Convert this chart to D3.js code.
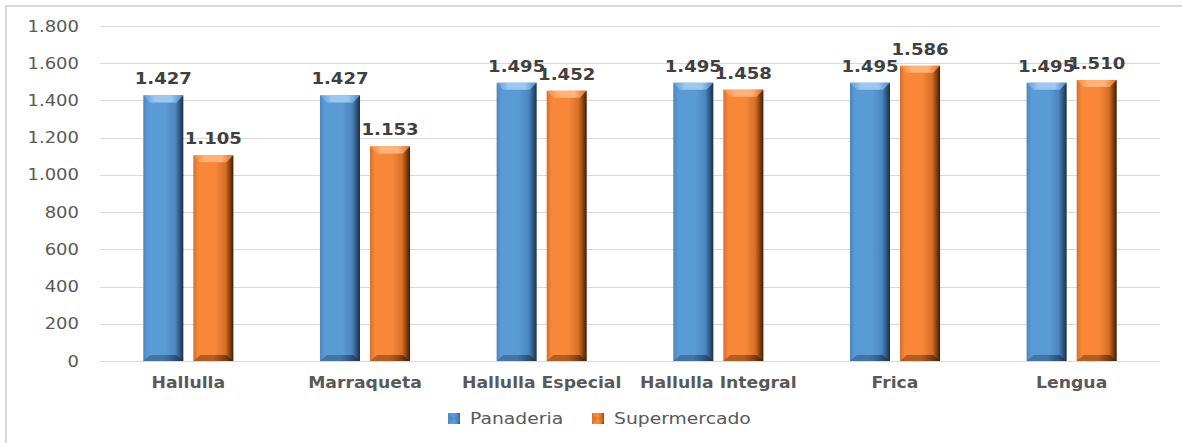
<!DOCTYPE html>
<html><head><meta charset="utf-8">
<script src="https://cdn.jsdelivr.net/npm/d3@7/dist/d3.min.js"></script>
<style>body{margin:0;background:#fff;}svg{display:block;}</style>
</head><body>
<svg id="c" width="1182" height="443"></svg>
<script>
const categories = ["Hallulla","Marraqueta","Hallulla Especial","Hallulla Integral","Frica","Lengua"];
const seriesNames = ["Panaderia","Supermercado"];
const panaderia = [1427,1427,1495,1495,1495,1495];
const supermercado = [1105,1153,1452,1458,1586,1510];
const tickValues = [0,200,400,600,800,1000,1200,1400,1600,1800];
const fmt = v => d3.format(",")(v).replace(/,/g,".");

(function(){
const svg = d3.select("#c");
const pLeft=100,pRight=1160,pTop=26,pBottom=361;

svg.append("rect").attr("x",6).attr("y",6).attr("width",1300).attr("height",600)
  .attr("fill","none").attr("stroke","#d9d9d9").attr("stroke-width",2);

const x0 = d3.scaleBand().domain(categories).range([pLeft,pRight]).paddingInner(0.49).paddingOuter(0.245);
const x1 = d3.scaleBand().domain(seriesNames).range([0,x0.bandwidth()]).paddingInner(0.2);
const y = d3.scaleLinear().domain([0,1800]).range([pBottom,pTop]);

const colors = {Panaderia:{base:"#5b9bd5",light:"#9cc8f0",mid:"#4a86c0",dark:"#1c2f45",bot:"#3f6e9c"},
                Supermercado:{base:"#f8873a",light:"#ffb27a",mid:"#d86f25",dark:"#3d1d08",bot:"#a9561f"}};

const defs = svg.append("defs");
seriesNames.forEach((s,i)=>{
  const c=colors[s];
  const g=defs.append("linearGradient").attr("id","body"+i).attr("x1","0").attr("x2","1").attr("y1","0").attr("y2","0");
  [[0,c.mid],[0.12,c.base],[0.55,c.base],[0.8,c.mid],[1,c.dark]].forEach(([o,col])=>g.append("stop").attr("offset",o).attr("stop-color",col));
  const t=defs.append("linearGradient").attr("id","top"+i).attr("x1","0").attr("x2","1").attr("y1","0").attr("y2","0");
  [[0,c.base],[0.3,c.light],[0.7,c.light],[1,c.mid]].forEach(([o,col])=>t.append("stop").attr("offset",o).attr("stop-color",col));
  const b=defs.append("linearGradient").attr("id","bot"+i).attr("x1","0").attr("x2","1").attr("y1","0").attr("y2","0");
  [[0,c.bot],[0.5,c.bot],[1,c.dark]].forEach(([o,col])=>b.append("stop").attr("offset",o).attr("stop-color",col));
});

svg.append("g").selectAll("line").data(tickValues).join("line")
  .attr("x1",pLeft).attr("x2",pRight).attr("y1",d=>Math.round(y(d))+0.5).attr("y2",d=>Math.round(y(d))+0.5)
  .attr("stroke","#d9d9d9").attr("stroke-width",1);

svg.append("g").selectAll("text").data(tickValues).join("text")
  .attr("transform",d=>`translate(79,${y(d)+5.5}) scale(1.2,1)`)
  .attr("text-anchor","end").attr("font-family","DejaVu Sans, Verdana, sans-serif").attr("font-size",15)
  .attr("fill","#595959").text(d=>fmt(d));

const data = categories.map((c,i)=>({cat:c, vals:[panaderia[i],supermercado[i]]}));
const bev=7;
const groups = svg.append("g").selectAll("g").data(data).join("g").attr("transform",d=>`translate(${x0(d.cat)},0)`);
seriesNames.forEach((s,si)=>{
  groups.each(function(d){
    const g=d3.select(this);
    const xa=x1(s), w=x1.bandwidth(), yt=y(d.vals[si]), yb=y(0);
    g.append("rect").attr("x",xa).attr("y",yt).attr("width",w).attr("height",yb-yt).attr("fill",`url(#body${si})`);
    g.append("path").attr("d",`M${xa},${yt}L${xa+w},${yt}L${xa+w-bev},${yt+bev}L${xa+bev},${yt+bev}Z`).attr("fill",`url(#top${si})`);
    g.append("path").attr("d",`M${xa},${yb}L${xa+w},${yb}L${xa+w-bev},${yb-bev+1}L${xa+bev},${yb-bev+1}Z`).attr("fill",`url(#bot${si})`).attr("opacity",0.85);
  });
});
seriesNames.forEach((s,si)=>{
  groups.each(function(d){
    const g=d3.select(this);
    const xa=x1(s), w=x1.bandwidth(), yt=y(d.vals[si]);
    g.append("text").attr("transform",`translate(${xa+w/2},${yt-11}) scale(1.13,1)`)
      .attr("text-anchor","middle").attr("font-family","DejaVu Sans, Verdana, sans-serif").attr("font-weight","bold")
      .attr("font-size",16).attr("fill","#404040").text(fmt(d.vals[si]));
  });
});

svg.append("g").selectAll("text").data(categories).join("text")
  .attr("transform",d=>`translate(${x0(d)+x0.bandwidth()/2},387.5) scale(1.15,1)`)
  .attr("text-anchor","middle").attr("font-family","DejaVu Sans, Verdana, sans-serif").attr("font-weight","bold")
  .attr("font-size",15).attr("fill","#595959").text(d=>d);

const legX=[448,592];
const leg=svg.append("g").selectAll("g").data(seriesNames).join("g").attr("transform",(d,i)=>`translate(${legX[i]},413)`);
leg.append("rect").attr("width",12).attr("height",11).attr("fill",(d,i)=>`url(#body${i})`);
leg.append("path").attr("d","M0,0L6,5.5L0,11Z M12,0L6,5.5L12,11Z").attr("fill",(d)=>colors[d].mid).attr("opacity",0.6);
leg.append("text").attr("transform","translate(22,11) scale(1.25,1)").attr("font-family","DejaVu Sans, Verdana, sans-serif")
  .attr("font-size",15).attr("fill","#595959").text(d=>d);
})();
</script>
</body></html>
